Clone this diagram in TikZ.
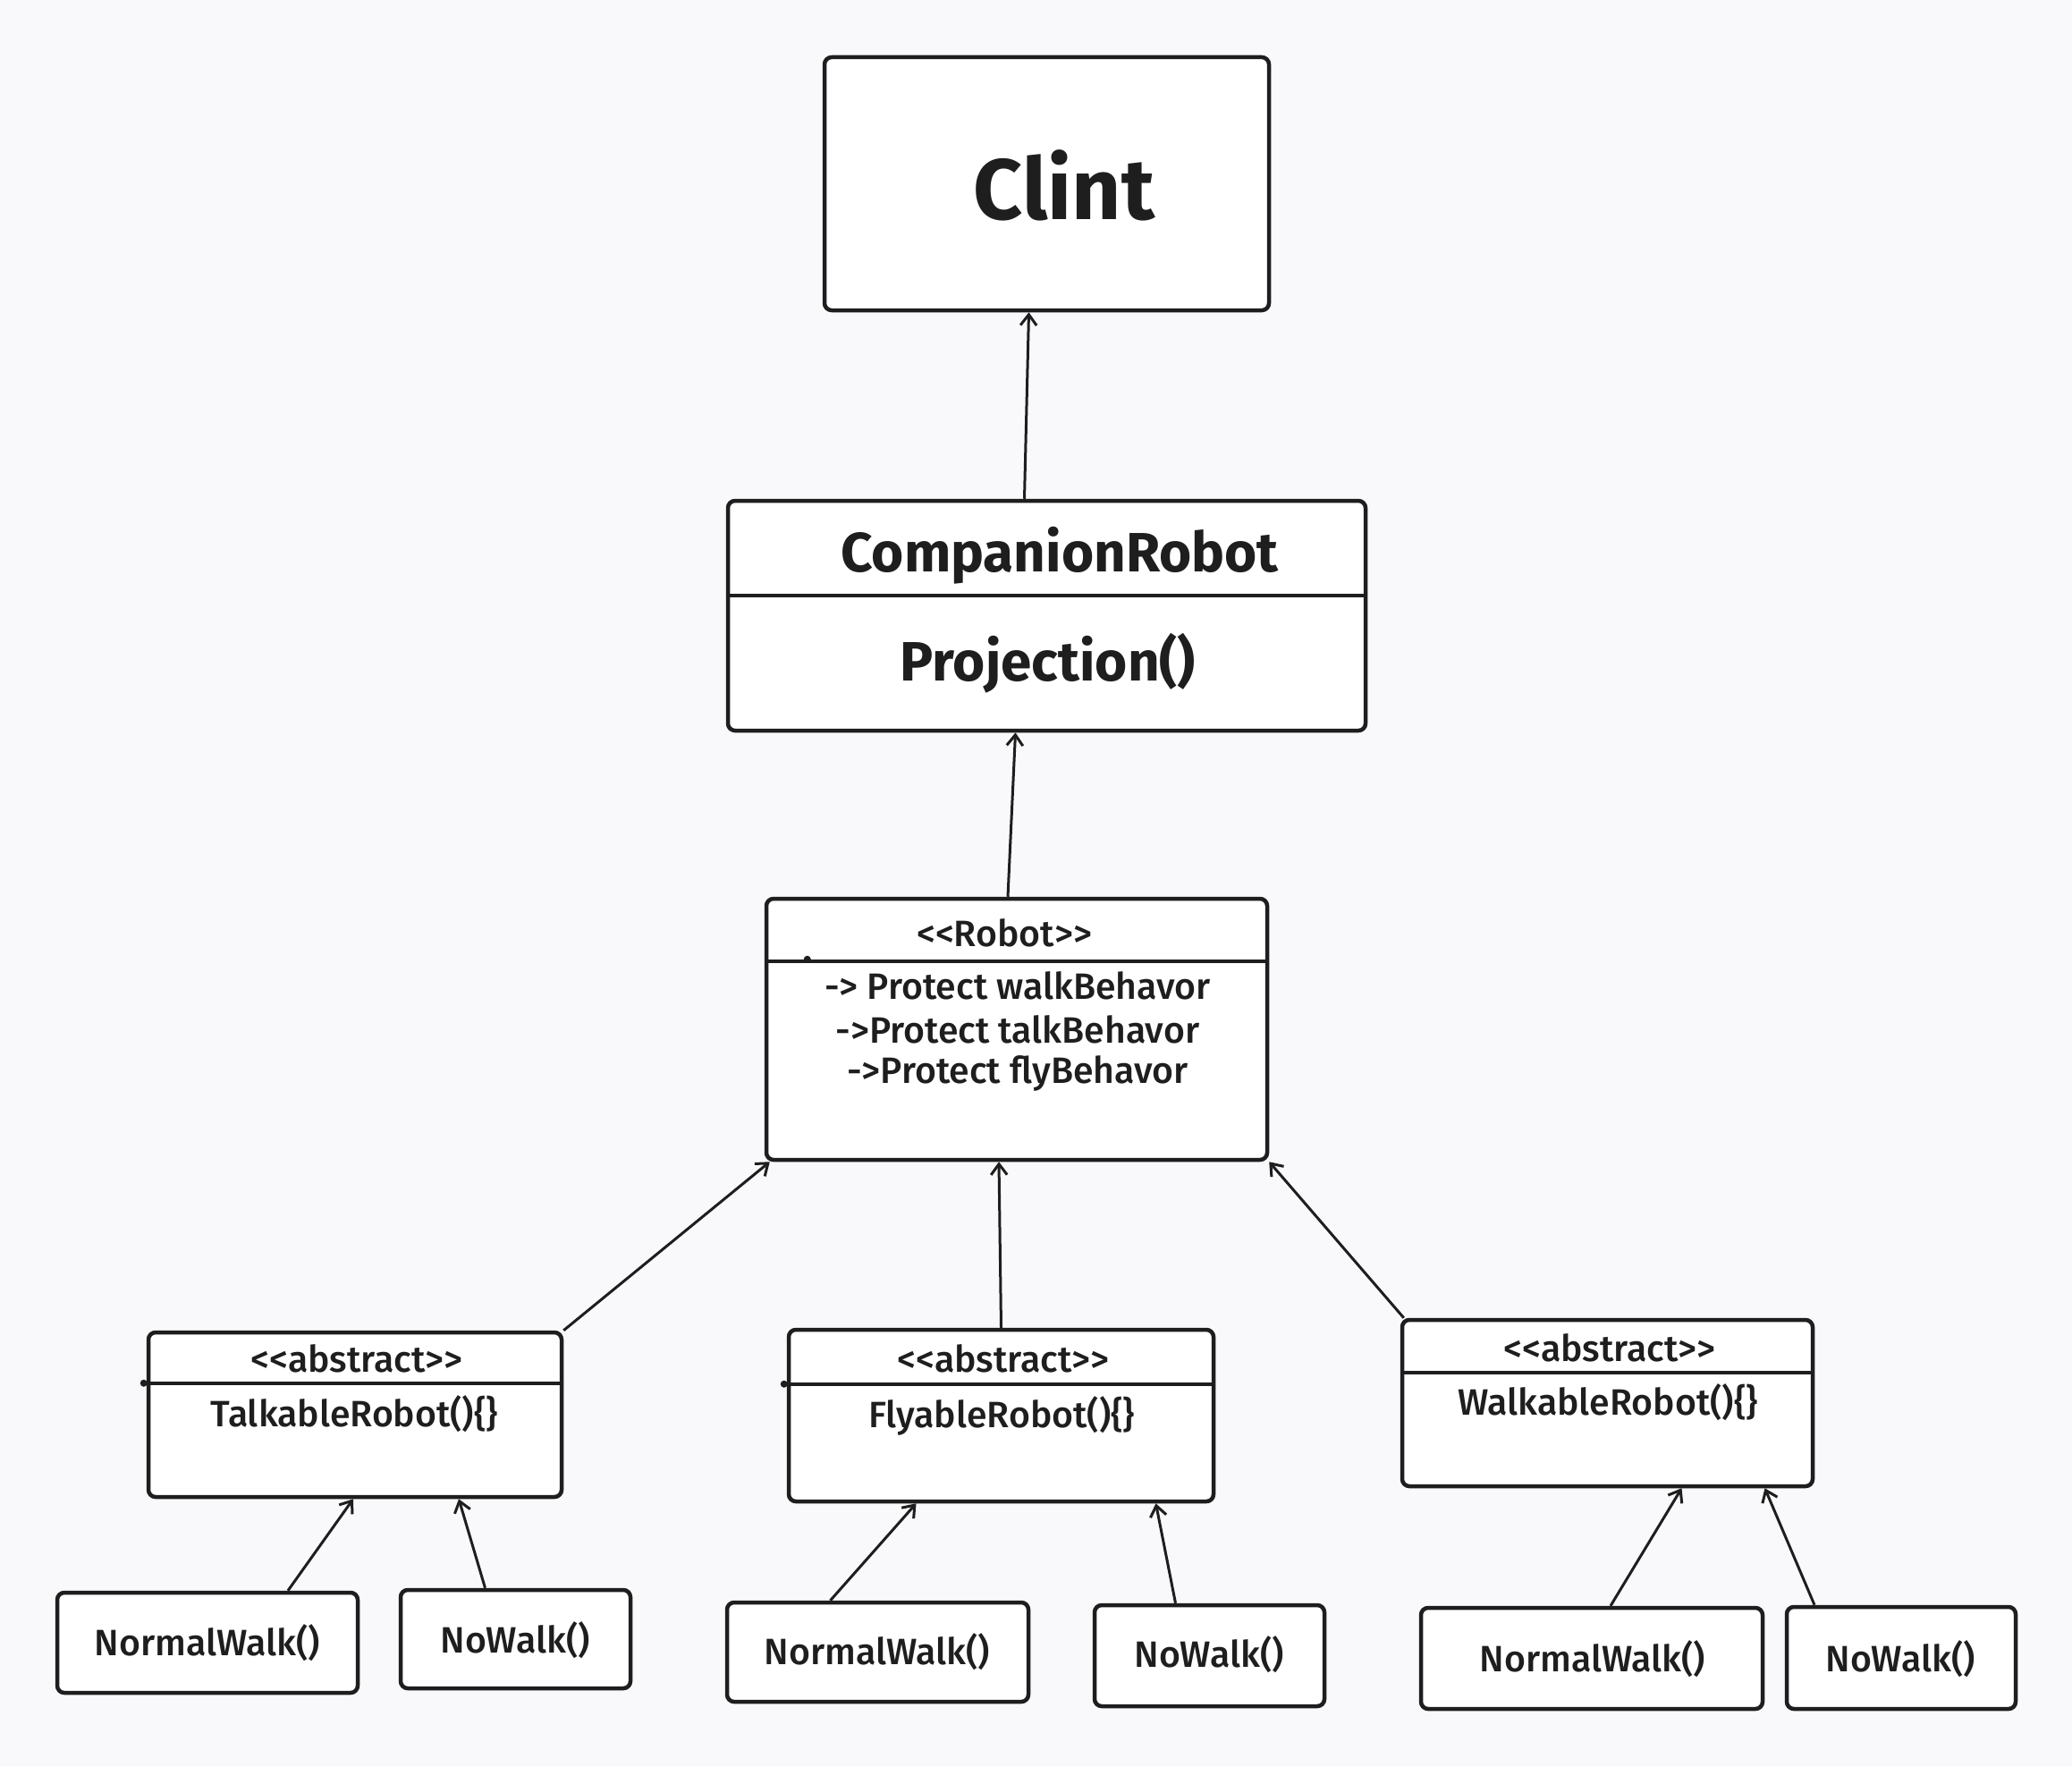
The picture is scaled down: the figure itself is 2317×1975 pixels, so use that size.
\documentclass[tikz,border=0pt]{standalone}
\usepackage{fontspec}
\setmainfont{Fira Sans}
\newfontfamily\medfont{Fira Sans Medium}
\usetikzlibrary{arrows.meta}
\definecolor{bgcol}{HTML}{F9F9FB}
\definecolor{ink}{HTML}{1E1E1E}
\tikzset{
  box/.style={draw=ink, fill=white, line width=4.5pt, rounded corners=8pt, inner sep=0pt},
  conn/.style={draw=ink, line width=3pt, -{Straight Barb[length=12pt,width=18pt,line width=3pt]}},
  divider/.style={draw=ink, line width=4.5pt},
  txt/.style={text=ink, inner sep=0pt},
  fclint/.style={txt, font=\fontsize{96}{110}\selectfont\bfseries},
  ftitle/.style={txt, font=\fontsize{62}{72}\selectfont\bfseries},
  frobot/.style={txt, font=\fontsize{41}{48}\medfont},
  fabs/.style={txt, font=\fontsize{41}{48}\medfont},
  fleaf/.style={txt, font=\fontsize{41}{48}\medfont},
}
\begin{document}
\begin{tikzpicture}[x=1pt,y=-1pt]
\fill[bgcol] (0,0) rectangle (2317,1975);
\useasboundingbox (0,0) rectangle (2317,1975);

% boxes
\node[box, minimum width=497pt, minimum height=283pt] (clint) at (1170.5,205.5) {};
\node[box, minimum width=713pt, minimum height=257pt] (cr) at (1170.5,688.5) {};
\node[box, minimum width=560pt, minimum height=292pt] (robot) at (1137,1151) {};
\node[box, minimum width=462pt, minimum height=184pt] (tr) at (397,1582) {};
\node[box, minimum width=475pt, minimum height=192pt] (fr) at (1119.5,1583) {};
\node[box, minimum width=459pt, minimum height=186pt] (wr) at (1797.5,1569) {};

\node[box, minimum width=336pt, minimum height=112pt] (nw1) at (232,1837) {};
\node[box, minimum width=257pt, minimum height=110pt] (no1) at (576.5,1833) {};
\node[box, minimum width=337pt, minimum height=111pt] (nw2) at (981.5,1847.5) {};
\node[box, minimum width=257pt, minimum height=113pt] (no2) at (1352.5,1851.5) {};
\node[box, minimum width=382pt, minimum height=113pt] (nw3) at (1780,1854.5) {};
\node[box, minimum width=256pt, minimum height=114pt] (no3) at (2126,1854) {};

% dividers
\draw[divider] ([yshift=-108pt]cr.north west) -- ([yshift=-108pt]cr.north east);
\draw[divider] ([yshift=-72pt]robot.north west) -- ([yshift=-72pt]robot.north east);
\draw[divider] ([yshift=-59pt,xshift=-3pt]tr.north west) -- ([yshift=-59pt]tr.north east);
\draw[divider] ([yshift=-63pt,xshift=-3pt]fr.north west) -- ([yshift=-63pt]fr.north east);
\draw[divider] ([yshift=-61pt]wr.north west) -- ([yshift=-61pt]wr.north east);

% small stray dots
\fill[ink] ([xshift=48pt,yshift=-70pt]robot.north west) circle (4pt);
\fill[ink] ([xshift=-3pt,yshift=-59pt]tr.north west) circle (4pt);
\fill[ink] ([xshift=-3pt,yshift=-63pt]fr.north west) circle (4pt);

% texts
\node[fclint] (tclint) at (1190,207) {Clint};
\node[ftitle] (tcr) at (1185,621) {CompanionRobot};
\node[ftitle] (tproj) at (1172,742) {Projection()};
\node[frobot] (trob) at (1123,1043) {<{}<Robot>{}>};
\node[frobot] (tr1) at (1138,1102) {-{}> Protect walkBehavor};
\node[frobot] (tr2) at (1138,1151) {-{}>Protect talkBehavor};
\node[frobot] (tr3) at (1138,1200) {-{}>Protect flyBehavor};

\node[fabs] (ta1) at (399,1519) {<{}<abstract>{}>};
\node[fabs] (tt1) at (396,1581) {TalkableRobot()\{\}};
\node[fabs] (ta2) at (1122,1519) {<{}<abstract>{}>};
\node[fabs] (tt2) at (1120,1583) {FlyableRobot()\{\}};
\node[fabs] (ta3) at (1800,1507) {<{}<abstract>{}>};
\node[fabs] (tt3) at (1798,1568) {WalkableRobot()\{\}};

\node[fleaf] (lnw1) at (232,1837) {NormalWalk()};
\node[fleaf] (lno1) at (576,1834) {NoWalk()};
\node[fleaf] (lnw2) at (981,1847) {NormalWalk()};
\node[fleaf] (lno2) at (1352,1850) {NoWalk()};
\node[fleaf] (lnw3) at (1781,1855) {NormalWalk()};
\node[fleaf] (lno3) at (2125,1855) {NoWalk()};

% connectors
\draw[conn] ([xshift=-25pt]cr.north) -- ([xshift=-20pt]clint.south);
\draw[conn] ([xshift=-10pt]robot.north) -- ([xshift=-35pt]cr.south);
\draw[conn] (tr.north east) -- ([xshift=6pt]robot.south west);
\draw[conn] (fr.north) -- ([xshift=-20pt]robot.south);
\draw[conn] ([xshift=4pt]wr.north west) -- (robot.south east);

\draw[conn] ([xshift=90pt]nw1.north) -- ([xshift=-2pt]tr.south);
\draw[conn] ([xshift=-34pt]no1.north) -- ([xshift=116pt]tr.south);
\draw[conn] ([xshift=-53pt]nw2.north) -- ([xshift=-95pt]fr.south);
\draw[conn] ([xshift=-38pt]no2.north) -- ([xshift=173pt]fr.south);
\draw[conn] ([xshift=21pt]nw3.north) -- ([xshift=83pt]wr.south);
\draw[conn] ([xshift=-97pt]no3.north) -- ([xshift=176pt]wr.south);
\end{tikzpicture}
\end{document}
